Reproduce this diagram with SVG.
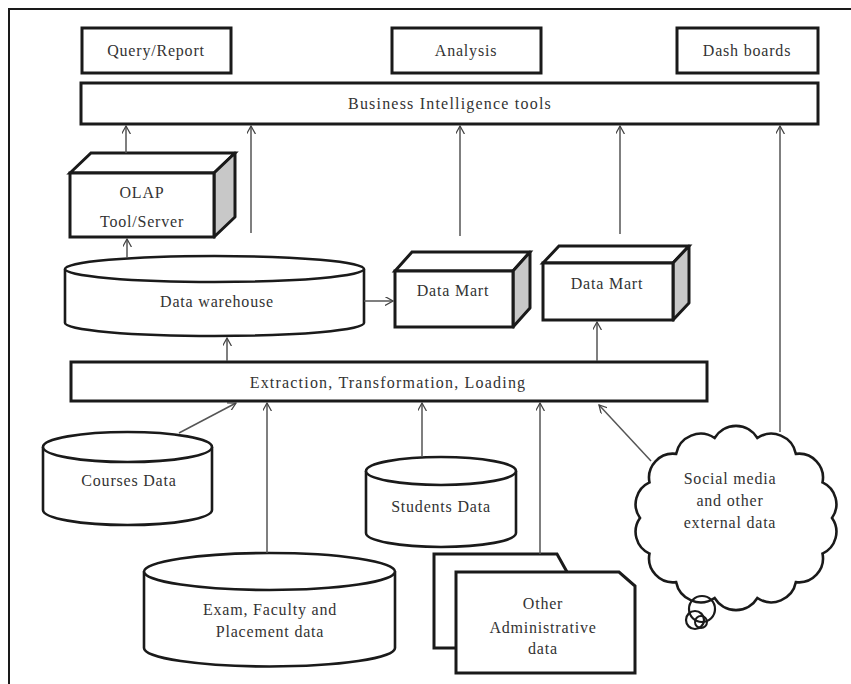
<svg xmlns="http://www.w3.org/2000/svg" width="851" height="684" viewBox="0 0 851 684">
<defs>
<marker id="ah" viewBox="0 0 10 10" refX="9" refY="5" markerWidth="9" markerHeight="9" markerUnits="userSpaceOnUse" orient="auto">
<path d="M0,0 L9,5 L0,10" fill="none" stroke="#444" stroke-width="1.4"/>
</marker>
<style>
.b{fill:#fff;stroke:#1a1a1a;stroke-width:3}
.s{fill:#c8c8c8;stroke:#1a1a1a;stroke-width:3;stroke-linejoin:round}
.c{fill:#fff;stroke:#1a1a1a;stroke-width:2.6}
.a{stroke:#555;stroke-width:1.5;fill:none;marker-end:url(#ah)}
text{font-family:"Liberation Serif","Times New Roman",serif;font-size:16px;fill:#333;text-anchor:middle;letter-spacing:0.8px}
</style>
</defs>
<rect width="851" height="684" fill="#fff"/>
<path d="M9,684 L9,9 L851,9" fill="none" stroke="#1a1a1a" stroke-width="2"/>

<g id="query"><rect class="b" x="82" y="28" width="149" height="45"/><text x="156" y="56">Query/Report</text></g>
<g id="analysis"><rect class="b" x="392" y="28" width="149" height="45"/><text x="466" y="56">Analysis</text></g>
<g id="dashboards"><rect class="b" x="677" y="28" width="141" height="45"/><text x="747" y="56">Dash boards</text></g>
<g id="bi"><rect class="b" x="81" y="83" width="737" height="41"/><text x="450" y="109" style="letter-spacing:1.2px">Business Intelligence tools</text></g>

<g id="olap">
<polygon class="b" points="70,173 91,153 235,153 214,173"/>
<polygon class="s" points="214,173 235,153 235,217 214,237"/>
<rect class="b" x="70" y="173" width="144" height="64"/>
<text x="142" y="198">OLAP</text><text x="142" y="227">Tool/Server</text>
</g>

<g id="warehouse">
<path class="c" d="M65,269 L65,323 A149.5,13 0 0 0 364,323 L364,269"/>
<ellipse class="c" cx="214.5" cy="269" rx="149.5" ry="13"/>
<text x="217" y="307">Data warehouse</text>
</g>

<g id="datamart1">
<polygon class="b" points="395,271 412,252 530,252 513,271"/>
<polygon class="s" points="513,271 530,252 530,308 513,327"/>
<rect class="b" x="395" y="271" width="118" height="56"/>
<text x="453" y="296">Data Mart</text>
</g>

<g id="datamart2">
<polygon class="b" points="543,263 559,246 689,246 673,263"/>
<polygon class="s" points="673,263 689,246 689,303 673,320"/>
<rect class="b" x="543" y="263" width="130" height="57"/>
<text x="607" y="289">Data Mart</text>
</g>

<g id="etl"><rect class="b" x="71" y="362" width="636" height="39"/><text x="388" y="388" style="letter-spacing:1.2px">Extraction, Transformation, Loading</text></g>

<g id="courses">
<path class="c" d="M43,447 L43,510 A84.5,15 0 0 0 212,510 L212,447"/>
<ellipse class="c" cx="127.5" cy="447" rx="84.5" ry="15"/>
<text x="129" y="486">Courses Data</text>
</g>

<g id="students">
<path class="c" d="M366,471 L366,533 A75,14 0 0 0 516,533 L516,471"/>
<ellipse class="c" cx="441" cy="471" rx="75" ry="14"/>
<text x="441" y="512">Students Data</text>
</g>

<g id="exam">
<path class="c" d="M144,571.5 L144,648 A125.5,18.5 0 0 0 395,648 L395,571.5"/>
<ellipse class="c" cx="269.5" cy="571.5" rx="125.5" ry="18.5"/>
<text x="270" y="615">Exam, Faculty and</text><text x="270" y="637">Placement data</text>
</g>

<g id="admin">
<path class="b" d="M434,554 L557,554 L567,572 L567,648 L434,648 Z"/>
<path class="b" d="M456,572 L619,572 L635,586 L635,673 L456,673 Z"/>
<text x="543" y="609">Other</text><text x="543" y="633">Administrative</text><text x="543" y="654">data</text>
</g>

<g id="connectors">
<line class="a" x1="126" y1="153" x2="126" y2="126"/>
<line class="a" x1="251" y1="233" x2="251" y2="126"/>
<line class="a" x1="460" y1="236" x2="460" y2="126"/>
<line class="a" x1="620" y1="234" x2="620" y2="126"/>
<line class="a" x1="780" y1="432" x2="780" y2="126"/>
<line class="a" x1="127" y1="258" x2="127" y2="239"/>
<line class="a" x1="364" y1="301" x2="393" y2="301"/>
<line class="a" x1="227" y1="361" x2="227" y2="338"/>
<line class="a" x1="597" y1="361" x2="597" y2="322"/>
<line class="a" x1="179" y1="433" x2="236" y2="403"/>
<line class="a" x1="267" y1="553" x2="267" y2="403"/>
<line class="a" x1="422" y1="457" x2="422" y2="403"/>
<line class="a" x1="540" y1="554" x2="540" y2="403"/>
<line class="a" x1="651" y1="461" x2="599" y2="405"/>
</g>

<g id="cloud">
<path fill="#fff" stroke="#1a1a1a" stroke-width="2.6" d="M832,518 A24,24 0 0 1 822.5,553.6 A24,24 0 0 1 795.9,582.1 A25,25 0 0 1 757.4,598 A25,25 0 0 1 714.6,598 A25,25 0 0 1 676.1,582.1 A24,24 0 0 1 649.5,553.6 A24,24 0 0 1 640,518 A24,24 0 0 1 649.5,482.4 A24,24 0 0 1 676.1,453.9 A25,25 0 0 1 714.6,438 A25,25 0 0 1 757.4,438 A25,25 0 0 1 795.9,453.9 A24,24 0 0 1 822.5,482.4 A24,24 0 0 1 832,518 Z"/>
<circle cx="702" cy="609" r="13" fill="none" stroke="#1a1a1a" stroke-width="2.2"/>
<circle cx="695" cy="620" r="9" fill="none" stroke="#1a1a1a" stroke-width="2.2"/>
<circle cx="701" cy="622" r="6" fill="none" stroke="#1a1a1a" stroke-width="2"/>
<text x="730" y="484">Social media</text><text x="730" y="506">and other</text><text x="730" y="528">external data</text>
</g>
</svg>
